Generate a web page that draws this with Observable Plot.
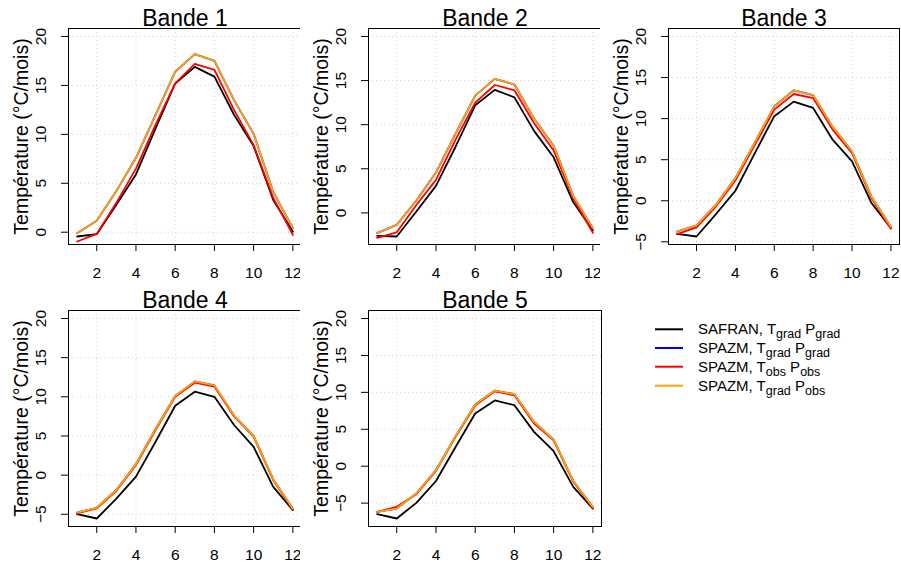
<!DOCTYPE html>
<html><head><meta charset="utf-8">
<script src="https://cdn.jsdelivr.net/npm/d3@7"></script>
<script src="https://cdn.jsdelivr.net/npm/@observablehq/plot@0.6"></script>
<style>
body{margin:0;background:#fff;font-family:"Liberation Sans",Arial,sans-serif;}
#wrap{position:relative;width:901px;height:564px;overflow:hidden;background:#fff;}
.panel{position:absolute;}
.panel svg{overflow:visible;}
</style></head><body><div id="wrap"></div>
<script>
const months = [1,2,3,4,5,6,7,8,9,10,11,12];
const xTicks = [2,4,6,8,10,12];
const yTicksAll = [-10,-5,0,5,10,15,20];
const titles = ["Bande 1","Bande 2","Bande 3","Bande 4","Bande 5"];
const yLabel = "Température (°C/mois)";
const seriesNames = ["SAFRAN, Tgrad Pgrad","SPAZM, Tgrad Pgrad","SPAZM, Tobs Pobs","SPAZM, Tgrad Pobs"];
const seriesColors = ["black","blue","red","orange"];
const legendPrefix = ["SAFRAN","SPAZM","SPAZM","SPAZM"];
const legendTSub = ["grad","grad","obs","grad"];
const legendPSub = ["grad","grad","obs","obs"];

// Bande 1
const safran1   = [-0.44,-0.2,2.8,5.9,10.6,15.2,16.9,15.9,12.0,8.8,3.3,0.05];
const spazmGG1  = [-0.1,1.16,4.2,7.6,12.0,16.4,18.2,17.5,13.5,10.05,4.1,0.4];
const spazmOO1  = [-0.95,-0.17,3.0,6.5,11.0,15.2,17.2,16.6,12.5,8.9,3.5,-0.27];
const spazmGO1  = [-0.1,1.16,4.2,7.6,12.0,16.4,18.2,17.5,13.5,10.05,4.1,0.4];
// Bande 2
const safran2   = [-2.6,-2.68,0.15,3.06,7.5,12.2,13.95,13.1,9.3,6.3,1.2,-2.0];
const spazmGG2  = [-2.3,-1.36,1.4,4.57,9.0,13.3,15.2,14.55,10.7,7.6,1.9,-1.74];
const spazmOO2  = [-2.83,-2.2,0.9,3.74,8.3,12.5,14.5,13.9,10.2,7.07,1.66,-2.27];
const spazmGO2  = [-2.3,-1.36,1.4,4.57,9.0,13.3,15.2,14.55,10.7,7.6,1.9,-1.74];
// Bande 3
const safran3   = [-4.02,-4.35,-1.63,1.22,5.8,10.3,12.07,11.3,7.44,4.8,-0.28,-3.33];
const spazmGG3  = [-3.74,-3.0,-0.5,2.76,7.1,11.5,13.45,12.85,9.0,6.0,0.5,-3.2];
const spazmOO3  = [-4.07,-3.25,-0.7,2.48,6.8,11.1,13.0,12.5,8.66,5.8,0.33,-3.4];
const spazmGO3  = [-3.74,-3.0,-0.5,2.76,7.1,11.5,13.45,12.85,9.0,6.0,0.5,-3.2];
// Bande 4
const safran4   = [-4.98,-5.54,-3.0,-0.2,4.26,8.86,10.65,10.0,6.4,3.6,-1.5,-4.47];
const spazmGG4  = [-4.8,-4.17,-1.9,1.4,5.9,10.1,11.97,11.46,7.6,4.98,-0.55,-4.3];
const spazmOO4  = [-4.9,-4.26,-2.0,1.28,5.75,10.0,11.8,11.3,7.5,4.9,-0.64,-4.39];
const spazmGO4  = [-4.8,-4.17,-1.9,1.4,5.9,10.1,11.97,11.46,7.6,4.98,-0.55,-4.3];
// Bande 5
const safran5   = [-6.5,-7.08,-4.96,-2.0,2.6,7.13,8.9,8.26,4.65,2.03,-2.8,-5.73];
const spazmGG5  = [-6.18,-5.73,-3.7,-0.54,4.06,8.35,10.24,9.75,6.0,3.6,-2.0,-5.55];
const spazmOO5  = [-6.18,-5.5,-3.8,-0.63,3.97,8.2,10.15,9.6,5.78,3.5,-2.1,-5.64];
const spazmGO5  = [-6.18,-5.73,-3.7,-0.54,4.06,8.35,10.24,9.75,6.0,3.6,-2.0,-5.55];

const panels = [
  [safran1, spazmGG1, spazmOO1, spazmGO1],
  [safran2, spazmGG2, spazmOO2, spazmGO2],
  [safran3, spazmGG3, spazmOO3, spazmGO3],
  [safran4, spazmGG4, spazmOO4, spazmGO4],
  [safran5, spazmGG5, spazmOO5, spazmGO5]
];
const lefts = [0, 300, 600, 0, 300];
const tops = [0, 0, 0, 282, 282];
const widths = [302, 302, 301, 302, 302];
const rights = [1, 1, 2, 1, 1];

const wrap = document.getElementById("wrap");

panels.forEach((series, p) => {
  const rows = [];
  series.forEach((vals, s) => {
    months.forEach((m, i) => rows.push({month: m, value: vals[i], series: seriesNames[s]}));
  });
  const lo0 = d3.min(series[0]);
  const pad = 0.04 * (20 - lo0);
  const yDomain = [lo0 - pad, 20 + pad];
  const yTicks = yTicksAll.filter(t => t >= yDomain[0] && t <= yDomain[1]);
  const chart = Plot.plot({
    width: widths[p], height: 282,
    marginLeft: 68, marginRight: rights[p], marginTop: 28, marginBottom: 38,
    style: {fontFamily: "'Liberation Sans', Arial, sans-serif", background: "white", color: "black"},
    x: {domain: [0.56, 12.44]},
    y: {domain: yDomain},
    color: {domain: seriesNames, range: seriesColors},
    marks: [
      Plot.gridX(xTicks, {stroke: "#d3d3d3", strokeOpacity: 1, strokeDasharray: "1,3", strokeWidth: 1}),
      Plot.gridY(yTicks, {stroke: "#d3d3d3", strokeOpacity: 1, strokeDasharray: "1,3", strokeWidth: 1}),
      Plot.axisX(xTicks, {tickSize: 7, tickPadding: 15, fontSize: 15.5, label: null, stroke: "black"}),
      Plot.axisY(yTicks, {tickSize: 7, tickPadding: 16, tickRotate: -90, textAnchor: "middle", lineAnchor: "bottom", fontSize: 15.5, label: null, stroke: "black"}),
      Plot.line(rows, {x: "month", y: "value", z: "series", stroke: "series", strokeWidth: 1.8}),
      Plot.frame({stroke: "black", strokeWidth: 1}),
      Plot.text([titles[p]], {frameAnchor: "top", text: d => d, dy: -3, lineAnchor: "bottom", fontSize: 23}),
      Plot.text([yLabel], {frameAnchor: "left", text: d => d, rotate: -90, dx: -41, lineAnchor: "bottom", textAnchor: "middle", fontSize: 19.5})
    ]
  });
  const div = document.createElement("div");
  div.className = "panel";
  div.style.left = lefts[p] + "px";
  div.style.top = tops[p] + "px";
  div.appendChild(chart);
  wrap.appendChild(div);
});

// Legend
const ns = "http://www.w3.org/2000/svg";
const leg = document.createElementNS(ns, "svg");
leg.setAttribute("width", 260); leg.setAttribute("height", 90);
leg.style.position = "absolute"; leg.style.left = "640px"; leg.style.top = "315px";
leg.style.fontFamily = "'Liberation Sans', Arial, sans-serif";
const rowY = [14.3, 33, 51.7, 70.7];
seriesNames.forEach((name, i) => {
  const ln = document.createElementNS(ns, "line");
  ln.setAttribute("x1", 15); ln.setAttribute("x2", 43);
  ln.setAttribute("y1", rowY[i]); ln.setAttribute("y2", rowY[i]);
  ln.setAttribute("stroke", seriesColors[i]); ln.setAttribute("stroke-width", 2);
  leg.appendChild(ln);
  const t = document.createElementNS(ns, "text");
  t.setAttribute("x", 58); t.setAttribute("y", rowY[i] + 5);
  t.setAttribute("font-size", 15);
  const parts = [
    [legendPrefix[i] + ", T", null, 0],
    [legendTSub[i], 12.5, 4],
    [" P", null, -4],
    [legendPSub[i], 12.5, 4]
  ];
  parts.forEach(([txt, fs, dy]) => {
    const ts = document.createElementNS(ns, "tspan");
    ts.textContent = txt;
    if (fs) ts.setAttribute("font-size", fs);
    if (dy) ts.setAttribute("dy", dy);
    t.appendChild(ts);
  });
  leg.appendChild(t);
});
wrap.appendChild(leg);
</script>
</body></html>
